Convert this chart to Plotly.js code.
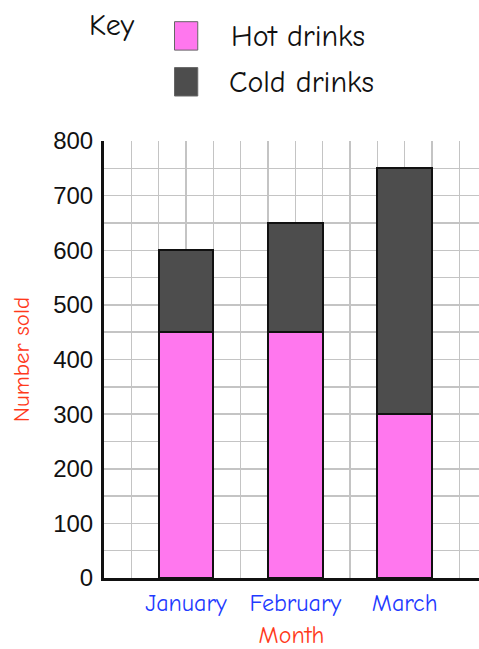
<!DOCTYPE html>
<html><head><meta charset="utf-8">
<script src="https://cdn.plot.ly/plotly-3.0.1.min.js"></script>
<style>html,body{margin:0;padding:0;overflow:hidden;background:#fff}</style>
</head><body>
<div id="chart" style="width:479px;height:649px"></div>
<script>
const months = ["January", "February", "March"];
const monthPos = [0, 1, 2];
const hotDrinks = [450, 450, 300];
const coldDrinks = [150, 200, 450];
const yTicks = [0, 100, 200, 300, 400, 500, 600, 700, 800];

const fontFamily = '"Comic Sans MS", "Comic Neue", "DejaVu Sans", sans-serif';
const gridColor = '#c4c4c4';

const traces = [
  {type: 'bar', x: monthPos, y: hotDrinks, name: 'Hot drinks', width: 0.5,
   marker: {color: '#ff77ee', line: {color: '#111', width: 2}}},
  {type: 'bar', x: monthPos, y: coldDrinks, name: 'Cold drinks', width: 0.5,
   marker: {color: '#4d4d4d', line: {color: '#111', width: 2}}}
];

const layout = {
  width: 479, height: 649,
  margin: {l: 104, r: 0, t: 141, b: 71},
  barmode: 'stack',
  showlegend: false,
  paper_bgcolor: '#fff', plot_bgcolor: '#fff',
  xaxis: {
    range: [-0.75, 2.68], tickvals: monthPos, ticktext: months,
    tickfont: {family: fontFamily, size: 24, color: '#1f3bff'},
    showgrid: true, gridcolor: gridColor, gridwidth: 1.5,
    minor: {dtick: 0.25, showgrid: true, gridcolor: gridColor, gridwidth: 1.5},
    showline: true, linecolor: '#111', linewidth: 3, zeroline: false,
    ticks: '', ticklabelstandoff: 1,
    title: {text: 'Month', font: {family: fontFamily, size: 24, color: '#ff3a1c'}, standoff: 16}
  },
  yaxis: {
    range: [0, 800], tickvals: yTicks,
    tickfont: {family: '"Liberation Sans", Arial, sans-serif', size: 24, color: '#111'},
    showgrid: true, gridcolor: gridColor, gridwidth: 1.5,
    minor: {dtick: 50, showgrid: true, gridcolor: gridColor, gridwidth: 1.5},
    showline: true, linecolor: '#111', linewidth: 3, zeroline: false,
    ticks: '', ticklabelstandoff: 3,
    title: {text: 'Number sold', font: {family: fontFamily, size: 23, color: '#ff3a1c'}, standoff: 18}
  },
  shapes: [
    {type: 'rect', xref: 'paper', yref: 'paper', x0: 0.188, x1: 0.250, y0: 1.208, y1: 1.273,
     fillcolor: '#ff77ee', line: {color: '#666', width: 1}},
    {type: 'rect', xref: 'paper', yref: 'paper', x0: 0.188, x1: 0.250, y0: 1.103, y1: 1.168,
     fillcolor: '#4d4d4d', line: {color: '#666', width: 1}}
  ],
  annotations: [
    {text: 'Key', xref: 'paper', yref: 'paper', x: 0.021, y: 1.265, showarrow: false,
     xanchor: 'center', yanchor: 'middle', font: {family: fontFamily, size: 30, color: '#111'}},
    {text: 'Hot drinks', xref: 'paper', yref: 'paper', x: 0.333, y: 1.240, showarrow: false,
     xanchor: 'left', yanchor: 'middle', font: {family: fontFamily, size: 30, color: '#111'}},
    {text: 'Cold drinks', xref: 'paper', yref: 'paper', x: 0.328, y: 1.133, showarrow: false,
     xanchor: 'left', yanchor: 'middle', font: {family: fontFamily, size: 30, color: '#111'}}
  ]
};

Plotly.newPlot('chart', traces, layout, {displayModeBar: false, staticPlot: true});
</script>
</body></html>
